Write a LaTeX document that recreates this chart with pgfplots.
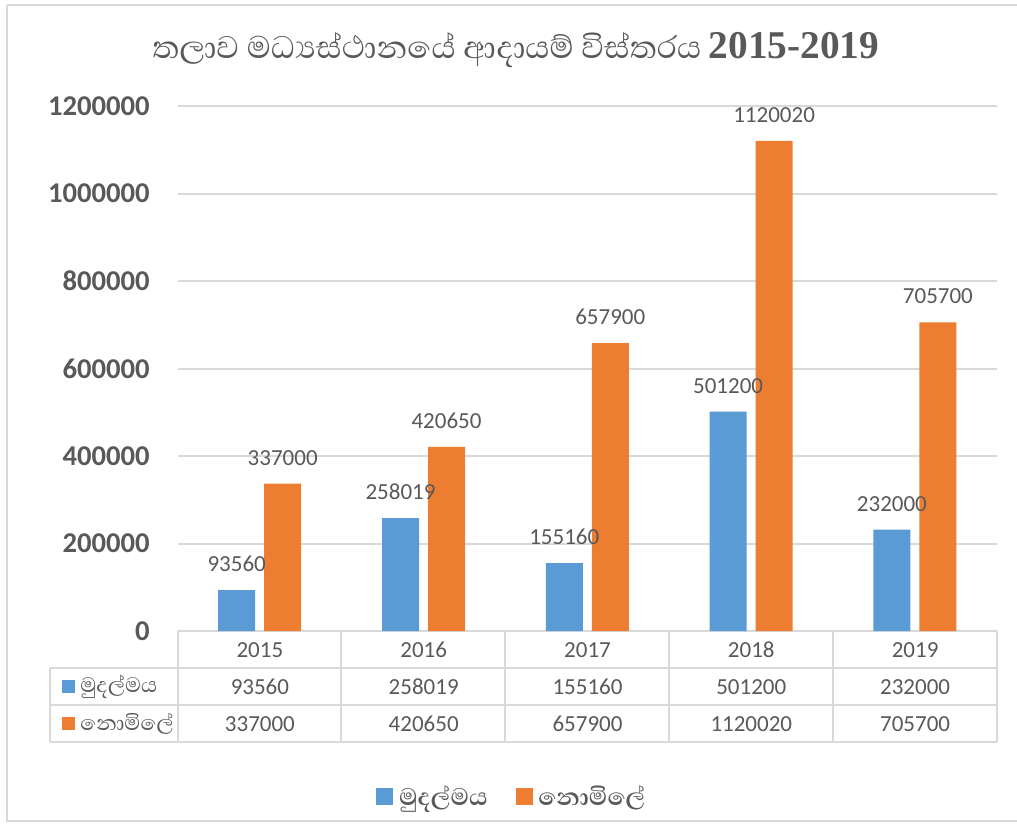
\documentclass[border=0pt]{standalone}
\usepackage{pgfplots}
\pgfplotsset{compat=1.18}
\usepackage{pgfplotstable}
\usepackage{fontspec}
\setmainfont{Carlito}
\newfontfamily\sinhala[Script=Sinhala]{Abhaya Libre}
\newfontfamily\titleserif{Liberation Serif}
\definecolor{cblue}{HTML}{5B9BD5}
\definecolor{corange}{HTML}{ED7D31}
\definecolor{txt}{HTML}{595959}
\definecolor{gridc}{HTML}{D9D9D9}
\newcommand\tl[3]{\rule{0pt}{12pt}#1\\#2\\#3}

\pgfplotstableread{
x y
0 93560
1 258019
2 155160
3 501200
4 232000
}\paid
\pgfplotstableread{
x y
0 337000
1 420650
2 657900
3 1120020
4 705700
}\free

\begin{document}
\begin{tikzpicture}
\path[use as bounding box] (0pt,0pt) rectangle (762.75pt,-618.75pt);
\begin{axis}[
  at={(133.5pt,-473.25pt)}, anchor=south west,
  scale only axis, width=614.25pt, height=393.75pt,
  ybar, bar width=27.75pt,
  xmin=-0.5, xmax=4.5, ymin=0, ymax=1200000,
  xtick={0,1,2,3,4},
  xticklabels={{\tl{2015}{93560}{337000}},{\tl{2016}{258019}{420650}},{\tl{2017}{155160}{657900}},{\tl{2018}{501200}{1120020}},{\tl{2019}{232000}{705700}}},
  xticklabel style={align=center, anchor=north, inner sep=0pt, yshift=-3.2pt, text=txt,
    font=\fontsize{17.25}{27.75}\selectfont},
  ytick={0,200000,400000,600000,800000,1000000,1200000},
  scaled y ticks=false,
  yticklabel style={/pgf/number format/fixed, /pgf/number format/1000 sep={},
    /pgf/number format/assume math mode=true,
    anchor=east, inner sep=0pt, xshift=-21pt, text=txt,
    font=\fontsize{21.5}{24}\selectfont\bfseries},
  ymajorgrids, grid style={gridc, line width=1.5pt},
  axis line style={draw=none}, tick style={draw=none},
  clip=false,
  nodes near coords, point meta=explicit symbolic,
  every node near coord/.append style={anchor=south, inner sep=0pt, yshift=13.5pt, text=txt,
    font=\fontsize{17.25}{20}\selectfont},
  legend style={at={(rel axis cs:0.408,-0.316)}, anchor=center, draw=none, fill=none,
    legend columns=2, font=\fontsize{23}{26}\selectfont\sinhala\bfseries, text=txt,
    /tikz/every even column/.append style={column sep=19pt}},
]
\addplot[fill=cblue, draw=none, bar shift=-17.4pt,
  legend image code/.code={\fill[cblue] (0pt,-6.4pt) rectangle (12.75pt,6.4pt); \path (15pt,0pt);}]
  table[x=x, y=y, meta=y] {\paid};
\addlegendentry{මුදල්මය}
\addplot[fill=corange, draw=none, bar shift=17.1pt,
  legend image code/.code={\fill[corange] (0pt,-6.4pt) rectangle (12.75pt,6.4pt); \path (15pt,0pt);}]
  table[x=x, y=y, meta=y] {\free};
\addlegendentry{නොමිලේ}
\end{axis}
\begin{scope}[x=0.75pt,y=-0.75pt]
% outer frame
\draw[gridc, line width=1.5pt] (7,5) -- (1025,5);
\draw[gridc, line width=1.5pt] (7,5) -- (7,821) -- (1025,821);
% data table
\begin{scope}[gridc, line width=1.5pt]
\draw (50,668) -- (997,668);
\draw (50,705) -- (997,705);
\draw (50,742) -- (997,742);
\draw (50,668) -- (50,742);
\foreach \xx in {178,341,505,669,833,997} \draw (\xx,631) -- (\xx,742);
\end{scope}
\fill[cblue] (62,680) rectangle (75,693);
\fill[corange] (62,717) rectangle (75,730);
\node[anchor=west, inner sep=0pt, text=txt, font=\fontsize{20}{22}\selectfont\sinhala] at (80,686.5) {මුදල්මය};
\node[anchor=west, inner sep=0pt, text=txt, font=\fontsize{20}{22}\selectfont\sinhala] at (80,723.5) {නොමිලේ};
% title
\node[text=txt, inner sep=0pt] at (516,50) {\fontsize{30}{32}\selectfont\sinhala තලාව මධ්‍යස්ථානයේ ආදායම් විස්තරය \titleserif\bfseries\fontsize{29.5}{32}\selectfont 2015-2019};
\end{scope}
\end{tikzpicture}
\end{document}
